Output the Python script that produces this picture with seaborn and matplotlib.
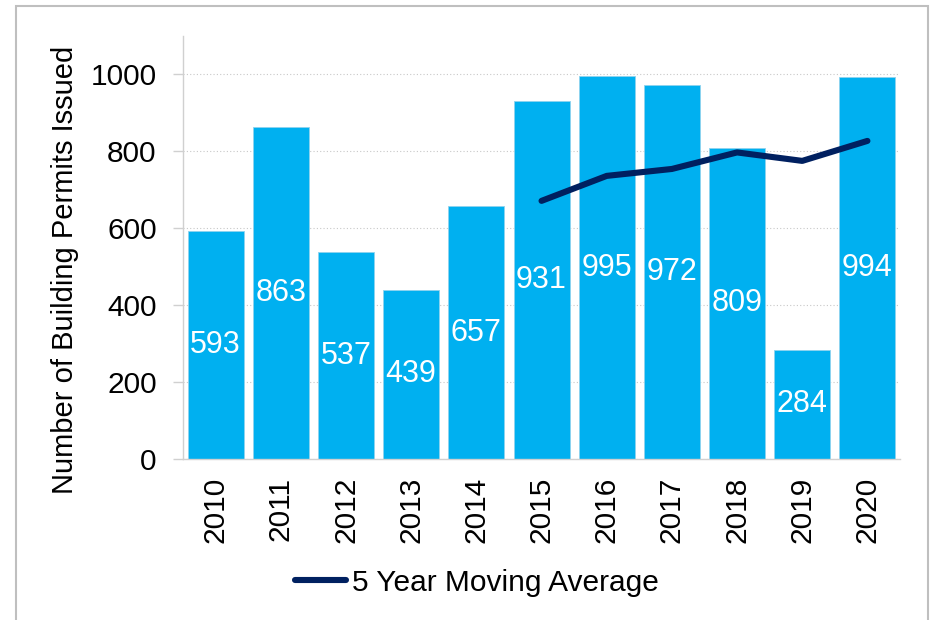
import matplotlib
matplotlib.use("Agg")
import matplotlib.pyplot as plt
import seaborn as sns
import pandas as pd
from matplotlib.patches import Rectangle

years = ["2010", "2011", "2012", "2013", "2014", "2015", "2016", "2017", "2018", "2019", "2020"]
permits = [593, 863, 537, 439, 657, 931, 995, 972, 809, 284, 994]
ma_years = ["2015", "2016", "2017", "2018", "2019", "2020"]
moving_avg = [671, 736, 754, 797, 775, 827]
y_ticks = [0, 200, 400, 600, 800, 1000]

sns.set_theme(style="white")
plt.rcParams['font.family'] = ['Liberation Sans', 'DejaVu Sans']
plt.rcParams['text.color'] = 'black'
plt.rcParams['axes.labelcolor'] = 'black'
plt.rcParams['xtick.color'] = 'black'
plt.rcParams['ytick.color'] = 'black'

FS = 21.5

fig = plt.figure(figsize=(9.34, 6.2), dpi=100)
ax = fig.add_axes([0.196, 0.26, 0.7676, 0.682])

df = pd.DataFrame({"year": years, "permits": permits})
sns.barplot(data=df, x="year", y="permits", color="#00B0F0", saturation=1,
            width=0.86, ax=ax, edgecolor="#8fd3ee", linewidth=0.6)

ma_x = [years.index(y) for y in ma_years]
sns.lineplot(x=ma_x, y=moving_avg, color="#002060", linewidth=4.4, ax=ax,
             label="5 Year Moving Average", legend=False)

for c in ax.containers:
    ax.bar_label(c, label_type="center", color="white", fontsize=FS + 0.5)

ax.set_xlim(-0.5, len(years) - 0.5)
ax.set_ylim(0, 1100)
ax.set_yticks(y_ticks)
ax.set_yticklabels([str(v) for v in y_ticks], fontsize=FS)
ax.set_xticks(range(len(years)))
ax.set_xticklabels(years, rotation=90, fontsize=FS)
ax.set_xticks([i - 0.5 for i in range(len(years) + 1)], minor=True)
ax.tick_params(axis="x", which="major", length=0, pad=13, colors="black")
ax.tick_params(axis="x", which="minor", length=6, width=1, color="#d0d0d0", direction="out")
ax.tick_params(axis="y", which="major", length=7, width=1, color="#d0d0d0", labelcolor="black", pad=12, left=True)

ax.set_xlabel("")
ax.set_ylabel("Number of Building Permits Issued", fontsize=21, color="black")
ax.yaxis.set_label_coords(-0.145, 0.447)

ax.yaxis.grid(True, linestyle=(0, (1, 2)), color="#c8c8c8", linewidth=0.8)
ax.set_axisbelow(True)
for s in ["top", "right"]:
    ax.spines[s].set_visible(False)
ax.spines["left"].set_color("#d0d0d0")
ax.spines["bottom"].set_color("#d0d0d0")
ax.spines["left"].set_linewidth(1)
ax.spines["bottom"].set_linewidth(1)

handles, labels = ax.get_legend_handles_labels()
fig.legend(handles, labels, loc="center", bbox_to_anchor=(0.511, 0.06), frameon=False,
           fontsize=FS, handlelength=1.7, handletextpad=0.2, labelcolor="black")

fig.patches.append(Rectangle((16 / 934, -0.05), (928 - 16) / 934, 1 - 6 / 620 + 0.05,
                             transform=fig.transFigure, fill=False,
                             edgecolor="#bfbfbf", linewidth=1.5))

fig.savefig("out.png", dpi=100)
